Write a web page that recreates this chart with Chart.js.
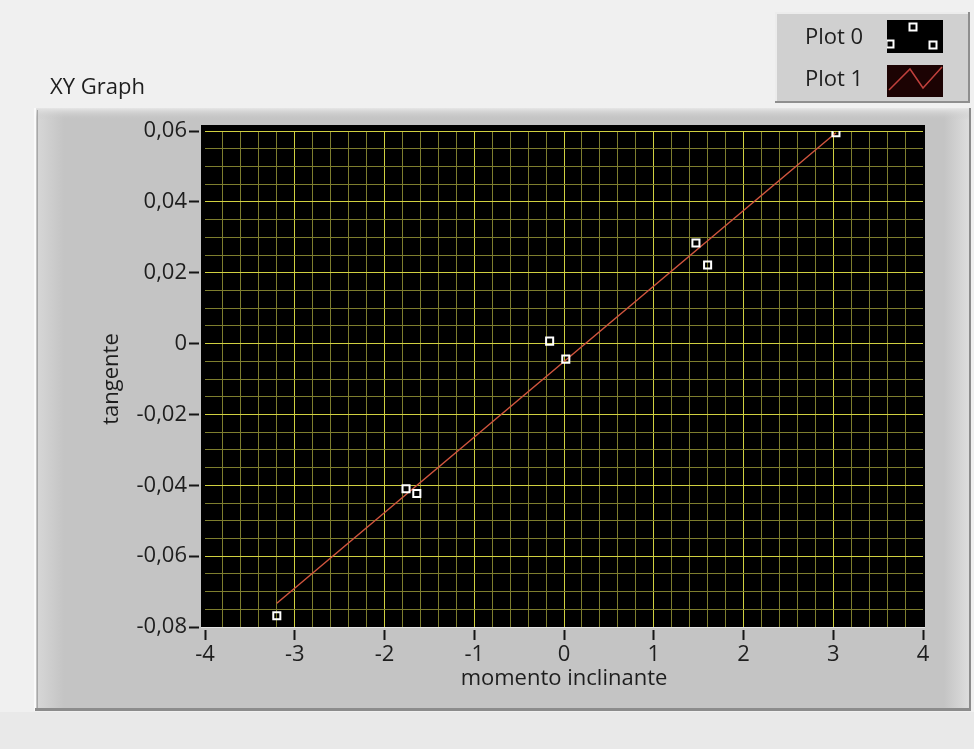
<!DOCTYPE html>
<html>
<head>
<meta charset="utf-8">
<script src="https://cdn.jsdelivr.net/npm/chart.js@4/dist/chart.umd.min.js"></script>
<style>
  html, body { margin: 0; padding: 0; background: #efefef; }
  canvas { display: block; }
</style>
</head>
<body>
<canvas id="graph" width="974" height="749"></canvas>
<script>
// Measured points (Plot 0)
const measuredX = [-3.20, -1.76, -1.64, -0.16, 0.02, 1.47, 1.60, 3.03];
const measuredY = [-0.0768, -0.0410, -0.0423, 0.0007, -0.0044, 0.0284, 0.0222, 0.0595];
// Fitted straight line (Plot 1), end points
const fitX = [-3.20, 3.03];
const fitY = [-0.0733, 0.0595];
const seriesNames = ['Plot 0', 'Plot 1'];
const graphTitle = 'XY Graph';
const xTitle = 'momento inclinante';
const yTitle = 'tangente';
// Major tick values (labelled); minor grid lines fall between them
const xMajor = [-4, -3, -2, -1, 0, 1, 2, 3, 4];
const yMajor = [-0.08, -0.06, -0.04, -0.02, 0, 0.02, 0.04, 0.06];

const FONT = '"Open Sans", "Noto Sans", sans-serif';
const FSIZE = 22;
const TEXT = '#1e1e1e';
const GRID_MAJOR = '#d0d040';
const GRID_MINOR = '#7e7e2e';

const isIn = (list, v) => list.some(t => Math.abs(t - v) < 1e-9);
const fmtDec = v => (Math.abs(v) < 1e-12 ? '0' : v.toFixed(2).replace('.', ','));

function pairs(xs, ys) { return xs.map((x, i) => ({ x: x, y: ys[i] })); }

// Panel, plot background and legend box
const panelPlugin = {
  id: 'panel',
  beforeDraw(chart) {
    const ctx = chart.ctx;
    const a = chart.chartArea;
    ctx.save();
    // page
    ctx.fillStyle = '#f0f0f0';
    ctx.fillRect(0, 0, 974, 749);
    ctx.fillStyle = '#e9e9e9';
    ctx.fillRect(0, 712, 974, 37);
    // graph frame
    ctx.fillStyle = '#c4c4c4';
    ctx.fillRect(35, 108, 936, 603);
    let g = ctx.createLinearGradient(38, 0, 64, 0);
    g.addColorStop(0, '#d6d6d6'); g.addColorStop(1, '#c4c4c4');
    ctx.fillStyle = g; ctx.fillRect(38, 110, 26, 599);
    g = ctx.createLinearGradient(944, 0, 968, 0);
    g.addColorStop(0, '#c4c4c4'); g.addColorStop(1, '#dcdcdc');
    ctx.fillStyle = g; ctx.fillRect(944, 110, 25, 599);
    g = ctx.createLinearGradient(0, 108, 0, 120);
    g.addColorStop(0, 'rgba(230,230,230,1)'); g.addColorStop(1, 'rgba(196,196,196,0)');
    ctx.fillStyle = g; ctx.fillRect(35, 108, 936, 12);
    ctx.fillStyle = '#fafafa'; ctx.fillRect(34, 108, 2, 603);
    ctx.fillStyle = '#a8a8a8'; ctx.fillRect(37, 110, 1, 600);
    ctx.fillStyle = '#8c8c8c'; ctx.fillRect(969, 108, 2, 603);
    ctx.fillStyle = '#8c8c8c'; ctx.fillRect(35, 708, 936, 3);
    // plot area
    ctx.fillStyle = '#000000';
    ctx.fillRect(a.left - 4, a.top - 6, a.right - a.left + 6, a.bottom - a.top + 6);
    ctx.fillStyle = '#e2e2e2';
    ctx.fillRect(a.left - 4, a.bottom, a.right - a.left + 6, 1);

    // title label
    ctx.fillStyle = TEXT;
    ctx.font = FSIZE + 'px ' + FONT;
    ctx.textBaseline = 'alphabetic';
    ctx.textAlign = 'left';
    ctx.fillText(graphTitle, 50, 94);

    // legend box
    ctx.fillStyle = '#d0d0d0';
    ctx.fillRect(775, 12, 195, 91);
    ctx.fillStyle = '#ececec'; ctx.fillRect(775, 12, 195, 2); ctx.fillRect(775, 12, 2, 91);
    ctx.fillStyle = '#8e8e8e'; ctx.fillRect(775, 101, 195, 2); ctx.fillRect(968, 12, 2, 91);
    ctx.fillStyle = TEXT;
    ctx.font = FSIZE + 'px ' + FONT;
    ctx.textBaseline = 'middle';
    chart.data.datasets.forEach((ds, i) => ctx.fillText(ds.label, 805, i === 0 ? 38 : 80));
    // swatch: points
    ctx.fillStyle = '#000'; ctx.fillRect(887, 20, 56, 33);
    ctx.save();
    ctx.beginPath(); ctx.rect(887, 20, 56, 33); ctx.clip();
    ctx.strokeStyle = '#ffffff'; ctx.lineWidth = 2;
    [[913, 27], [890, 44], [933, 45]].forEach(p => ctx.strokeRect(p[0] - 3.5, p[1] - 3.5, 7, 7));
    ctx.restore();
    // swatch: line
    ctx.fillStyle = '#1c0303'; ctx.fillRect(887, 65, 56, 32);
    ctx.strokeStyle = '#c0403c'; ctx.lineWidth = 1.5;
    ctx.beginPath();
    ctx.moveTo(889, 90); ctx.lineTo(910, 69); ctx.lineTo(923, 88); ctx.lineTo(942, 67);
    ctx.stroke();
    ctx.restore();
  }
};

const tickFont = { family: FONT, size: FSIZE };

new Chart(document.getElementById('graph'), {
  type: 'scatter',
  data: {
    datasets: [
      {
        label: seriesNames[0],
        data: pairs(measuredX, measuredY),
        pointStyle: 'rect',
        pointRadius: 5,
        pointHoverRadius: 5,
        borderColor: '#ffffff',
        backgroundColor: 'rgba(0,0,0,0)',
        borderWidth: 2,
        showLine: false
      },
      {
        label: seriesNames[1],
        data: pairs(fitX, fitY),
        showLine: true,
        pointRadius: 0,
        borderColor: '#d0553e',
        borderWidth: 1.5,
        backgroundColor: 'rgba(0,0,0,0)'
      }
    ]
  },
  options: {
    responsive: false,
    animation: false,
    events: [],
    layout: { padding: { left: 99, top: 131, right: 51, bottom: 57 } },
    plugins: { legend: { display: false }, tooltip: { enabled: false } },
    scales: {
      x: {
        type: 'linear',
        position: 'bottom',
        min: -4, max: 4,
        ticks: {
          stepSize: 0.2, autoSkip: false, maxRotation: 0, padding: 2,
          color: TEXT, font: tickFont,
          callback: v => (isIn(xMajor, v) ? String(Math.round(v)) : '')
        },
        grid: {
          color: c => {
            const v = c.tick ? c.tick.value : 0;
            if (Math.abs(Math.abs(v) - 4) < 1e-9) return 'rgba(0,0,0,0)';
            return isIn(xMajor, v) ? GRID_MAJOR : GRID_MINOR;
          },
          lineWidth: 1,
          tickLength: 13,
          tickWidth: 2,
          tickColor: c => (c.tick && isIn(xMajor, c.tick.value) ? '#151515' : 'rgba(0,0,0,0)'),
          tickBorderDash: [0, 3, 10, 100]
        },
        border: { display: false },
        title: { display: true, text: xTitle, color: TEXT, font: tickFont, padding: 0 },
        afterFit: s => { s.height = 65; }
      },
      y: {
        type: 'linear',
        min: -0.08, max: 0.06,
        ticks: {
          stepSize: 0.005, autoSkip: false, padding: 2,
          color: TEXT, font: tickFont,
          callback: v => (isIn(yMajor, v) ? fmtDec(v) : '')
        },
        grid: {
          color: c => {
            const v = c.tick ? c.tick.value : 0;
            if (Math.abs(v + 0.08) < 1e-9) return 'rgba(0,0,0,0)';
            return isIn(yMajor, v) ? GRID_MAJOR : GRID_MINOR;
          },
          lineWidth: 1,
          tickLength: 16,
          tickWidth: 2,
          tickColor: c => (c.tick && isIn(yMajor, c.tick.value) ? '#151515' : 'rgba(0,0,0,0)'),
          tickBorderDash: [10, 100]
        },
        border: { display: false },
        title: { display: true, text: yTitle, color: TEXT, font: tickFont, padding: 0 },
        afterFit: s => { s.width = 106; }
      }
    }
  },
  plugins: [panelPlugin]
});
</script>
</body>
</html>
